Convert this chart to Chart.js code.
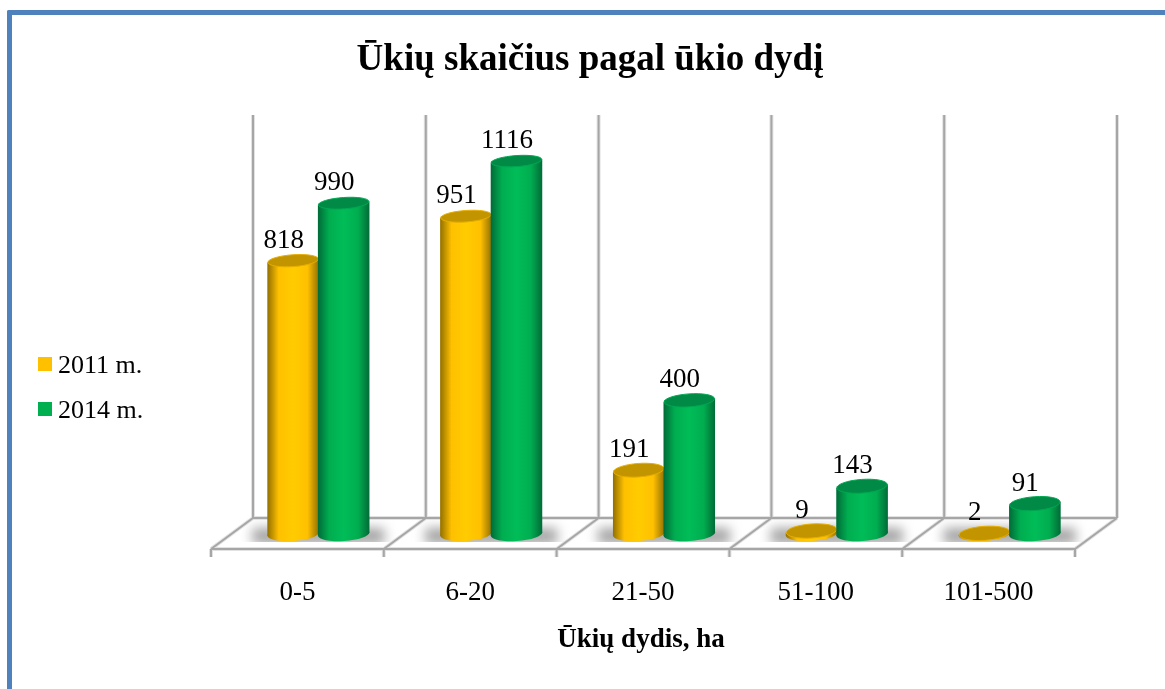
<!DOCTYPE html>
<html lang="lt">
<head>
<meta charset="utf-8">
<title>Ūkių skaičius pagal ūkio dydį</title>
<script src="https://cdn.jsdelivr.net/npm/chart.js@4/dist/chart.umd.min.js"></script>
<style>
    html, body { margin: 0; background: #fff; overflow: hidden; }
    #frame { position: absolute; left: 7px; top: 10px; width: 1200px; height: 700px;
             border-left: 5px solid #4f81bd; border-top: 5px solid #4f81bd; border-top-left-radius: 2px; }
    #chart { position: absolute; left: 0; top: 0; display: block; }
</style>
</head>
<body>
<div id="frame"></div>
<canvas id="chart" width="1165" height="689"></canvas>
<script>
const categories = ["0-5", "6-20", "21-50", "51-100", "101-500"];
const values2011 = [818, 951, 191, 9, 2];
const values2014 = [990, 1116, 400, 143, 91];
const chartTitle = "Ūkių skaičius pagal ūkio dydį";
const xTitle = "Ūkių dydis, ha";

const serif = "'Liberation Serif', 'Times New Roman', serif";
const depthX = 21;
const backY = 16;
const frontY = 15;

const looks = [
    { edge: "#927000", mid: "#ffc000", top: "#ffcc00", cap: "#c29400", rim: "#e6ae00" },
    { edge: "#006b38", mid: "#00ad50", top: "#00bd58", cap: "#008a45", rim: "#00a852" }
];

function line(ctx, x1, y1, x2, y2) {
    ctx.beginPath();
    ctx.moveTo(x1, y1);
    ctx.lineTo(x2, y2);
    ctx.stroke();
}

function drawScene(chart) {
    const ctx = chart.ctx;
    const xs = chart.scales.x;
    const zero = chart.scales.y.getPixelForValue(0);
    const step = xs.width / categories.length;
    const wallTop = chart.scales.y.top - 18;
    ctx.save();
    // floor shadows, cut off sharply at the front like the original
    ctx.save();
    ctx.beginPath();
    ctx.rect(xs.left - depthX, zero - backY, xs.width + depthX * 2, backY + 8);
    ctx.clip();
    ctx.filter = "blur(6px)";
    ctx.fillStyle = "#a4a4a4";
    categories.forEach((c, i) => {
        const mid = xs.getPixelForValue(i);
        ctx.fillRect(mid - 66, zero - 6, 132, 16);
    });
    ctx.restore();
    [["#e2e2e2", 4], ["#a6a6a6", 2]].forEach(([color, width]) => {
        ctx.strokeStyle = color;
        ctx.lineWidth = width;
        line(ctx, xs.left + depthX, zero - backY, xs.right + depthX, zero - backY);
        line(ctx, xs.left - depthX, zero + frontY, xs.right - depthX, zero + frontY);
        for (let i = 0; i <= categories.length; i++) {
            const x = xs.left + i * step;
            line(ctx, x + depthX, wallTop, x + depthX, zero - backY);
            line(ctx, x + depthX, zero - backY, x - depthX, zero + frontY);
            line(ctx, x - depthX, zero + frontY, x - depthX, zero + frontY + 8);
        }
    });
    ctx.restore();
}

function drawCylinders(chart, datasetIndex) {
    const ctx = chart.ctx;
    const look = looks[datasetIndex];
    const tilt = -4 * Math.PI / 180;
    chart.getDatasetMeta(datasetIndex).data.forEach(bar => {
        const { x, y, base, width } = bar.getProps(["x", "y", "base", "width"], true);
        const rx = width / 2 + 0.5;
        const rise = Math.sin(tilt) * rx;
        const ry = 7.5 - 1.5 * (base - y) / 373;
        const grad = ctx.createLinearGradient(x - rx, 0, x + rx, 0);
        grad.addColorStop(0, look.edge);
        grad.addColorStop(0.22, look.mid);
        grad.addColorStop(0.5, look.top);
        grad.addColorStop(0.78, look.mid);
        grad.addColorStop(1, look.edge);
        ctx.save();
        ctx.fillStyle = grad;
        ctx.beginPath();
        ctx.moveTo(x - rx, y - rise);
        ctx.lineTo(x + rx, y + rise);
        ctx.lineTo(x + rx, base + rise);
        ctx.lineTo(x - rx, base - rise);
        ctx.closePath();
        ctx.fill();
        ctx.beginPath();
        ctx.ellipse(x, base, rx, 7, tilt, 0, Math.PI * 2);
        ctx.fill();
        ctx.fillStyle = look.cap;
        ctx.strokeStyle = look.rim;
        ctx.lineWidth = 1;
        ctx.beginPath();
        ctx.ellipse(x, y, rx - 0.5, ry - 0.5, tilt, 0, Math.PI * 2);
        ctx.fill();
        ctx.stroke();
        ctx.restore();
    });
}

function drawTexts(chart) {
    const ctx = chart.ctx;
    ctx.save();
    ctx.textBaseline = "middle";
    // legend
    ctx.textAlign = "left";
    ctx.font = "26px " + serif;
    chart.data.datasets.forEach((set, d) => {
        const y = 364 + d * 45;
        ctx.fillStyle = set.backgroundColor;
        ctx.fillRect(38, y - 7, 14, 14);
        ctx.fillStyle = "#000";
        ctx.fillText(set.label, 58, y + 2);
    });
    // value labels
    ctx.textAlign = "center";
    ctx.font = "27px " + serif;
    chart.data.datasets.forEach((set, d) => {
        chart.getDatasetMeta(d).data.forEach((bar, i) => {
            ctx.fillText(String(set.data[i]), bar.x - 9.5, bar.y - 20);
        });
    });
    ctx.font = "bold 27px " + serif;
    ctx.fillText(xTitle, 641, 640);
    ctx.restore();
}

const scenePlugin = {
    id: "scene",
    afterLayout(chart) {
        const title = chart.titleBlock;
        const shift = 590 - (title.left + title.right) / 2;
        title.left += shift;
        title.right += shift;
    },
    beforeDatasetsDraw: drawScene,
    afterDatasetsDraw(chart) {
        drawCylinders(chart, 0);
        drawCylinders(chart, 1);
        drawTexts(chart);
    }
};

new Chart(document.getElementById("chart"), {
    type: "bar",
    data: {
        labels: categories,
        datasets: [
            { label: "2011 m.", data: values2011, backgroundColor: "#ffc000", borderWidth: 0 },
            { label: "2014 m.", data: values2014, backgroundColor: "#00b050", borderWidth: 0 }
        ]
    },
    options: {
        responsive: false,
        animation: false,
        layout: { autoPadding: false, padding: { left: 232, right: 69, top: 0, bottom: 0 } },
        datasets: { bar: { categoryPercentage: 0.585, barPercentage: 1 } },
        plugins: {
            title: {
                display: true,
                text: chartTitle,
                color: "#000",
                font: { family: serif, size: 37, weight: "bold", lineHeight: 1.2 },
                padding: { top: 38, bottom: 50.6 }
            },
            legend: { display: false },
            tooltip: { enabled: false }
        },
        scales: {
            x: {
                grid: { display: false, drawTicks: false },
                border: { display: false },
                afterFit(scale) { scale.height = 155; },
                ticks: {
                    color: "#000",
                    font: { family: serif, size: 27 },
                    padding: 42.5,
                    labelOffset: -depthX,
                    autoSkip: false,
                    maxRotation: 0
                }
            },
            y: { display: false, min: 0, max: 1200 }
        }
    },
    plugins: [scenePlugin]
});
</script>
</body>
</html>
